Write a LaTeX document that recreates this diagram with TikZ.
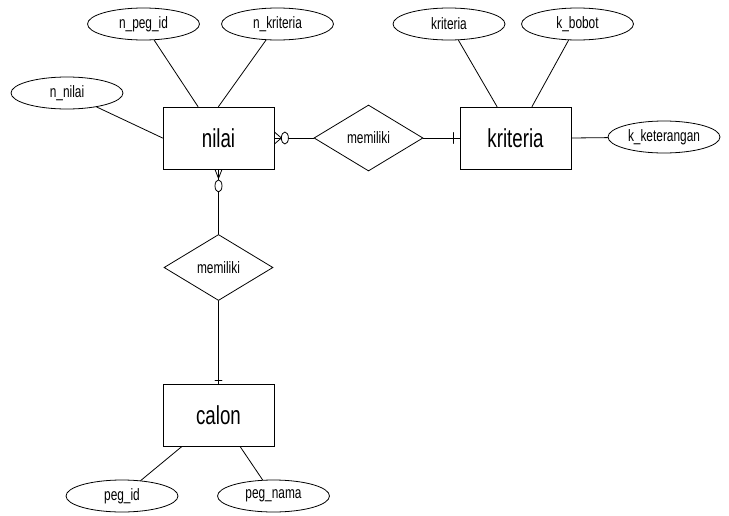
\documentclass[tikz,border=0pt]{standalone}
\usepackage{fontspec}
\setmainfont{Liberation Sans}[FakeStretch=0.72]
\usetikzlibrary{shapes.geometric}

\begin{document}
\begin{tikzpicture}[x=1pt,y=-1pt,line width=0.8pt,line cap=round,
		entity/.style={draw,rectangle,minimum width=111pt,minimum height=62pt,inner sep=0pt,font=\fontsize{26}{30}\selectfont},
		attr/.style={draw,ellipse,minimum width=112pt,minimum height=32pt,inner sep=0pt,font=\fontsize{16.5}{19}\selectfont},
		rel/.style={draw,diamond,aspect=1.65,minimum width=109pt,minimum height=66pt,inner sep=0pt,font=\fontsize{16.5}{19}\selectfont}]
		\useasboundingbox (0,0) rectangle (729,515);
		%entities
		\node[entity] (nilai) at (218.5,138) {nilai};
		\node[entity] (kriteria) at (515.5,138) {kriteria};
		\node[entity] (calon) at (218.5,415) {calon};
		%relations
		\node[rel] (rel1) at (368.5,138) {memiliki};
		\node[rel] (rel2) at (218.5,267.5) {memiliki};
		%attributes
		\foreach \P/\N/\T in {(67,93)/nnilai/n\_nilai,(143.5,24)/npegid/n\_peg\_id,(277.5,24)/nkrit/n\_kriteria,
			(449,24)/akrit/kriteria,(577.5,24)/kbobot/k\_bobot,(664,137)/kket/k\_keterangan,
			(122,496)/pegid/peg\_id,(273.5,496)/pegnama/peg\_nama}
		{\path \P node[attr] (\N) {\T};}
		\draw (nnilai) -- (nilai.west);
		\draw (npegid) -- ([xshift=-20.5pt]nilai.north);
		\draw (nkrit) -- (nilai.north);
		\draw (akrit) -- ([xshift=-18.5pt]kriteria.north);
		\draw (kbobot) -- ([xshift=16.5pt]kriteria.north);
		\draw (kket) -- (kriteria.east);
		\draw (pegid) -- ([xshift=-36.5pt]calon.south);
		\draw (pegnama) -- ([xshift=21.5pt]calon.south);
		%relationship lines
		\draw (nilai.east) -- (rel1.west);
		\draw ([yshift=6pt]nilai.east) -- ++(7,6) -- ([yshift=-6pt]nilai.east);
		\draw[fill=white] ([xshift=10.5pt]nilai.east) ellipse[x radius=3.5pt,y radius=6pt];
		\draw (rel1.east) -- (kriteria.west);
		\draw ([xshift=-6pt,yshift=5.5pt]kriteria.west) -- ++(0,11);
		\draw (nilai.south) -- (rel2.north);
		\draw ([xshift=-3.5pt]nilai.south) -- ++(3.5,9) -- ([xshift=3.5pt]nilai.south);
		\draw[fill=white] ([yshift=-16.5pt]nilai.south) ellipse[x radius=3.5pt,y radius=6pt];
		\draw (rel2.south) -- (calon.north);
		\draw ([xshift=-3.5pt,yshift=3pt]calon.north) -- ++(7,0);
\end{tikzpicture}
\end{document}
